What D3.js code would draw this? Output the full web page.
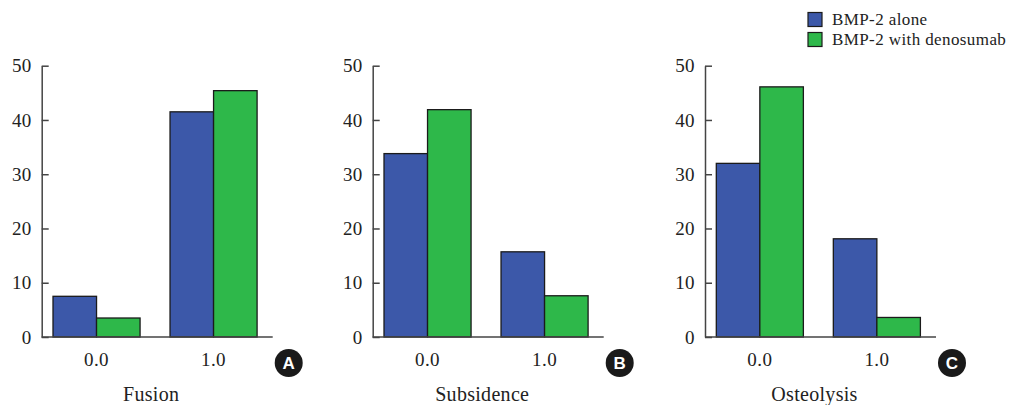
<!DOCTYPE html>
<meta charset="utf-8">
<script src="https://d3js.org/d3.v7.min.js"></script>
<style>
  body { margin: 0; background: #fff; }
  text { font-family: "Liberation Serif", "DejaVu Serif", serif; fill: #222; }
</style>
<body>
<svg id="svg"></svg>
</body>
<script>
  // data
  let categories = ['0.0', '1.0'];
  let seriesNames = ['BMP-2 alone', 'BMP-2 with denosumab'];
  let panelTitles = ['Fusion', 'Subsidence', 'Osteolysis'];
  let panelLetters = ['A', 'B', 'C'];
  let aloneValues = [[7.5, 41.5], [33.8, 15.7], [32.0, 18.1]];
  let denosumabValues = [[3.5, 45.4], [41.9, 7.6], [46.1, 3.6]];
  let yTicks = [0, 10, 20, 30, 40, 50];

  let width = 1013;
  let height = 405;
  let colors = ['#3c58a9', '#2eb84a'];

  let svg = d3.select('#svg')
    .attr('width', width)
    .attr('height', height);

  let y = d3.scaleLinear().domain([0, 50]).range([337, 65.7]);

  let axisX = [41.7, 372.7, 705];
  let axisLen = 231;

  panelTitles.forEach(function(title, p) {
    let g = svg.append('g').attr('transform', 'translate(' + axisX[p] + ',0)');

    let x = d3.scaleBand()
      .domain(categories)
      .range([0, 226.7])
      .paddingInner(0.256)
      .paddingOuter(0.0966);

    let sub = d3.scaleBand()
      .domain(seriesNames)
      .range([0, x.bandwidth()]);

    let rows = categories.map(function(c, i) {
      return { cat: c, vals: [aloneValues[p][i], denosumabValues[p][i]] };
    });

    let groups = g.selectAll('.grp')
      .data(rows)
      .enter()
      .append('g')
      .attr('transform', function(d) { return 'translate(' + x(d.cat) + ',0)'; });

    groups.selectAll('rect')
      .data(function(d) { return d.vals.map(function(v, k) { return { k: k, v: v }; }); })
      .enter()
      .append('rect')
      .attr('x', function(d) { return sub(seriesNames[d.k]); })
      .attr('y', function(d) { return y(d.v); })
      .attr('width', sub.bandwidth())
      .attr('height', function(d) { return y(0) - y(d.v); })
      .attr('fill', function(d) { return colors[d.k]; })
      .attr('stroke', '#1b1b1b')
      .attr('stroke-width', 1.3);

    // y axis, ticks pointing inward
    let yAxis = g.append('g')
      .call(d3.axisLeft(y).tickValues(yTicks).tickSizeInner(-7).tickSizeOuter(0).tickPadding(10));
    yAxis.select('.domain').attr('stroke', '#444').attr('stroke-width', 1.5);
    yAxis.selectAll('.tick line').attr('stroke', '#444').attr('stroke-width', 1.5);
    yAxis.selectAll('.tick text')
      .style('font-family', '"Liberation Serif", serif')
      .style('font-size', '19px')
      .style('letter-spacing', '0.4px')
      .attr('fill', '#222');

    // x axis baseline
    g.append('line')
      .attr('x1', 0).attr('x2', axisLen)
      .attr('y1', y(0)).attr('y2', y(0))
      .attr('stroke', '#444').attr('stroke-width', 1.5);

    g.selectAll('.xlab')
      .data(categories)
      .enter()
      .append('text')
      .attr('x', function(d) { return x(d) + x.bandwidth() / 2; })
      .attr('y', 366)
      .attr('text-anchor', 'middle')
      .style('font-size', '19px')
      .style('letter-spacing', '0.4px')
      .text(function(d) { return d; });

    g.append('text')
      .attr('x', 109.5)
      .attr('y', 401)
      .attr('text-anchor', 'middle')
      .style('font-size', '20px')
      .style('letter-spacing', '0.3px')
      .text(title);

    g.append('circle')
      .attr('cx', 247).attr('cy', 363).attr('r', 14)
      .attr('fill', '#1a1a1a');
    g.append('text')
      .attr('x', 247).attr('y', 369)
      .attr('text-anchor', 'middle')
      .style('font-family', '"Liberation Sans", Arial, sans-serif')
      .style('font-weight', 'bold')
      .style('font-size', '17px')
      .style('fill', '#fff')
      .text(panelLetters[p]);
  });

  // legend
  let legend = svg.append('g').attr('transform', 'translate(808,12.5)');
  seriesNames.forEach(function(name, i) {
    legend.append('rect')
      .attr('x', 0).attr('y', i * 20)
      .attr('width', 14).attr('height', 14)
      .attr('fill', colors[i])
      .attr('stroke', '#1b1b1b')
      .attr('stroke-width', 1.2);
    legend.append('text')
      .attr('x', 24).attr('y', i * 20 + 12)
      .style('font-size', '17px')
      .style('letter-spacing', '0.4px')
      .text(name);
  });
</script>
